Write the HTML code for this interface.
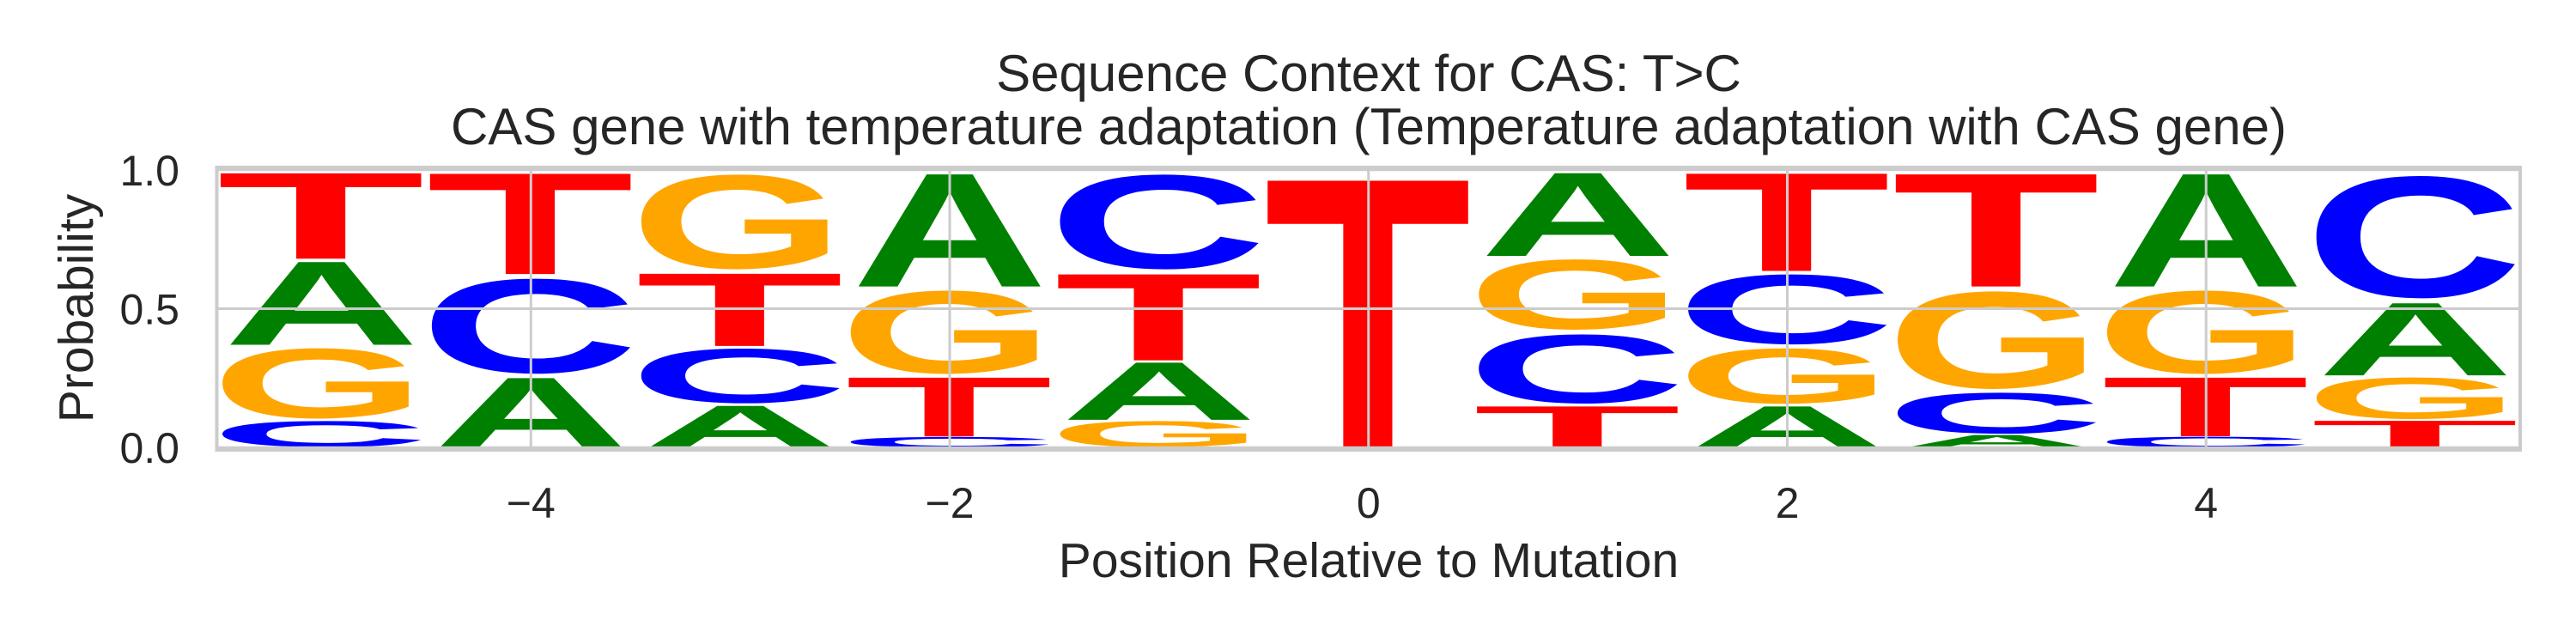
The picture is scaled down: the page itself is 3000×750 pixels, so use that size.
<!DOCTYPE html>
<html><head><meta charset="utf-8"><style>
html,body{margin:0;padding:0;background:#fff;}
svg{display:block;font-family:"Liberation Sans",sans-serif;}
</style></head><body>
<svg id="chart" width="3000" height="750" viewBox="0 0 3000 750" xmlns="http://www.w3.org/2000/svg">
<rect width="3000" height="750" fill="#fff"/>
<g id="letters"></g>
<g id="grid"></g>
<rect x="252.5" y="195" width="2682.5" height="329" fill="none" stroke="#cccccc" stroke-width="4"/>
<g id="ticks" fill="#262626" font-size="50"></g>
<text x="1594" y="106" text-anchor="middle" font-size="60" fill="#262626">Sequence Context for CAS: T&gt;C</text>
<text x="1594" y="168" text-anchor="middle" font-size="60" fill="#262626">CAS gene with temperature adaptation (Temperature adaptation with CAS gene)</text>
<text x="1594" y="672" text-anchor="middle" font-size="57" fill="#262626">Position Relative to Mutation</text>
<text transform="translate(108,359) rotate(-90)" text-anchor="middle" font-size="57" fill="#262626">Probability</text>
</svg>
<script>
const positions = [-5,-4,-3,-2,-1,0,1,2,3,4,5];
const probA = [0.31,0.26,0.156,0.42,0.214,0,0.31,0.154,0.047,0.42,0.27];
const probC = [0.10,0.365,0.21,0.04,0.364,0,0.266,0.269,0.158,0.041,0.47];
const probG = [0.27,0,0.364,0.32,0.10,0,0.27,0.213,0.375,0.32,0.16];
const probT = [0.32,0.375,0.27,0.22,0.322,1.0,0.154,0.364,0.42,0.219,0.10];
const xTicks = [-4,-2,0,2,4];
const yTicks = [0.0,0.5,1.0];
const yTickLabels = ["0.0","0.5","1.0"];

const NS = "http://www.w3.org/2000/svg";
const X0 = 252.5, X1 = 2935, XMIN = -5.5, XMAX = 5.5;
const Y0 = 521.2, Y1 = 197.8;
function xs(v){ return X0 + (v - XMIN) / (XMAX - XMIN) * (X1 - X0); }
function ys(v){ return Y0 + (Y1 - Y0) * v; }
const colors = {A:"#008000", C:"#0000ff", G:"#ffa500", T:"#ff0000"};
// ink boxes in units of font-size 100: left, top, width, height
const ink = {A:[0,-71.6,72.2,71.6], C:[4.5,-73.4,64.5,75.6], G:[4.5,-73.4,71,75.6], T:[2,-71.6,57.5,71.6]};
const LW = 0.935;

const lg = document.getElementById('letters');
positions.forEach((p, i) => {
  const items = [['A',probA[i]],['C',probC[i]],['G',probG[i]],['T',probT[i]]].filter(d => d[1] > 0);
  items.sort((a,b) => a[1] - b[1]);
  let base = 0;
  items.forEach(([L, v]) => {
    const xl = xs(p - LW/2), xr = xs(p + LW/2);
    const yb = ys(base), yt = ys(base + v);
    const w = xr - xl, h = yb - yt;
    const b = ink[L];
    const t = document.createElementNS(NS, 'text');
    
    
    t.setAttribute('font-weight', 'bold');
    t.setAttribute('font-size', '100');
    t.setAttribute('fill', colors[L]);
    t.setAttribute('transform', `translate(${xl},${yt}) scale(${w/b[2]},${h/b[3]}) translate(${-b[0]},${-b[1]})`);
    t.textContent = L;
    lg.appendChild(t);
    base += v;
  });
});

const gg = document.getElementById('grid');
xTicks.forEach(v => {
  const l = document.createElementNS(NS, 'line');
  
  
  l.setAttribute('x1', xs(v)); l.setAttribute('x2', xs(v));
  l.setAttribute('y1', 195); l.setAttribute('y2', 524);
  l.setAttribute('stroke', '#cccccc'); l.setAttribute('stroke-width', '3');
  gg.appendChild(l);
});
yTicks.forEach(v => {
  const l = document.createElementNS(NS, 'line');
  
  
  l.setAttribute('x1', 252.5); l.setAttribute('x2', 2935);
  l.setAttribute('y1', ys(v)); l.setAttribute('y2', ys(v));
  l.setAttribute('stroke', '#cccccc'); l.setAttribute('stroke-width', '3');
  gg.appendChild(l);
});

const tg = document.getElementById('ticks');
xTicks.forEach(v => {
  const t = document.createElementNS(NS, 'text');
  
  
  t.setAttribute('x', xs(v)); t.setAttribute('y', 603);
  t.setAttribute('text-anchor', 'middle');
  t.textContent = v < 0 ? '\u2212' + Math.abs(v) : String(v);
  tg.appendChild(t);
});
yTicks.forEach((v, i) => {
  const t = document.createElementNS(NS, 'text');
  
  
  t.setAttribute('x', 209); t.setAttribute('y', ys(v) + 18);
  t.setAttribute('text-anchor', 'end');
  t.textContent = yTickLabels[i];
  tg.appendChild(t);
});
</script>
</body></html>
